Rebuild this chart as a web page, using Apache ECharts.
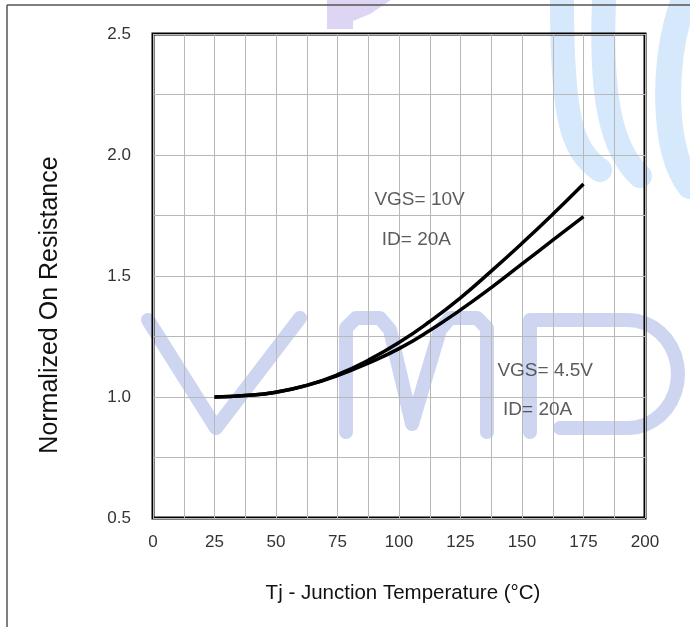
<!DOCTYPE html>
<html>
<head>
<meta charset="utf-8">
<script src="https://cdn.jsdelivr.net/npm/echarts@6/dist/echarts.min.js"></script>
<style>
  html, body { margin: 0; padding: 0; background: #fff; }
  #chart { width: 690px; height: 627px; }
</style>
</head>
<body>
<div id="chart"></div>
<script>
// junction temperature (°C)
const temps = [25, 37.5, 50, 62.5, 75, 87.5, 100, 112.5, 125, 137.5, 150, 162.5, 175];
// normalized on resistance, VGS = 10V, ID = 20A
const rdsVgs10 = [1.0, 1.006, 1.02, 1.048, 1.092, 1.152, 1.225, 1.312, 1.41, 1.52, 1.635, 1.755, 1.88];
// normalized on resistance, VGS = 4.5V, ID = 20A
const rdsVgs45 = [1.0, 1.006, 1.02, 1.048, 1.088, 1.14, 1.2, 1.275, 1.36, 1.452, 1.55, 1.648, 1.745];
// curve notes and where they sit (data units)
const notes = ['VGS= 10V', 'ID= 20A', 'VGS= 4.5V', 'ID= 20A'];
const noteX = [90, 93, 140, 142.3];
const noteY = [1.814, 1.649, 1.107, 0.946];

const chart = echarts.init(document.getElementById('chart'));

const toPairs = (ys) => temps.map((t, i) => [t, ys[i]]);
const wm = '#cdd5f1';   // watermark lavender
const wmBlue = '#d6e8fb';

// rounded side of the "D" in the watermark
const dPts = [[530, 432], [530, 320], [628, 320]];
for (let a = -90; a <= 90; a += 10) {
  const r = a * Math.PI / 180;
  dPts.push([628 + 50 * Math.cos(r), 374 + 54 * Math.sin(r)]);
}
dPts.push([560, 428]);

const wmStroke = (color, w) => ({ stroke: color, lineWidth: w, fill: null, lineCap: 'round', lineJoin: 'round' });

const option = {
  animation: false,
  backgroundColor: '#fff',
  grid: {
    left: 153, top: 34, width: 492, height: 484,
    show: true, borderColor: '#000', borderWidth: 3
  },
  xAxis: {
    type: 'value', min: 0, max: 200, interval: 25,
    axisLine: { show: false }, axisTick: { show: false },
    axisLabel: { color: '#333', fontSize: 17, margin: 16, fontFamily: 'Liberation Sans' },
    splitLine: { show: true, lineStyle: { color: '#b8b8b8', width: 1 } },
    minorTick: { show: false, splitNumber: 2 },
    minorSplitLine: { show: true, lineStyle: { color: '#b8b8b8', width: 1 } }
  },
  yAxis: {
    type: 'value', min: 0.5, max: 2.5, interval: 0.5,
    axisLine: { show: false }, axisTick: { show: false },
    axisLabel: {
      color: '#333', fontSize: 17, margin: 22, fontFamily: 'Liberation Sans',
      formatter: (v) => v.toFixed(1)
    },
    splitLine: { show: true, lineStyle: { color: '#b8b8b8', width: 1 } },
    minorTick: { show: false, splitNumber: 2 },
    minorSplitLine: { show: true, lineStyle: { color: '#b8b8b8', width: 1 } }
  },
  series: [
    {
      name: 'VGS=10V', type: 'line', data: toPairs(rdsVgs10),
      smooth: true, symbol: 'none',
      lineStyle: { color: '#000', width: 3.5 }, z: 5
    },
    {
      name: 'VGS=4.5V', type: 'line', data: toPairs(rdsVgs45),
      smooth: true, symbol: 'none',
      lineStyle: { color: '#000', width: 3.5 }, z: 5
    },
    {
      name: 'notes', type: 'scatter', symbolSize: 0, silent: true,
      data: notes.map((t, i) => [noteX[i], noteY[i]]),
      label: {
        show: true, position: 'right', distance: 0,
        color: '#333', fontSize: 19, fontFamily: 'Liberation Sans',
        formatter: (p) => notes[p.dataIndex]
      },
      z: 6
    }
  ],
  graphic: [
    // page frame
    { type: 'line', shape: { x1: 7, y1: 5, x2: 690, y2: 5 }, style: { stroke: '#555', lineWidth: 1.5 }, z: 10 },
    { type: 'line', shape: { x1: 7, y1: 5, x2: 7, y2: 627 }, style: { stroke: '#555', lineWidth: 1.5 }, z: 10 },
    // watermark
    { type: 'polyline', z: -10, shape: { points: [[148, 320], [216, 428], [300, 318]] }, style: wmStroke(wm, 14) },
    { type: 'polyline', z: -10,
      shape: { points: [[346, 432], [346, 328], [356, 318], [380, 318], [390, 330], [412, 424], [440, 330], [450, 318], [477, 318], [487, 328], [487, 432]] },
      style: wmStroke(wm, 14) },
    { type: 'polyline', z: -10, shape: { points: dPts }, style: wmStroke(wm, 14) },
    { type: 'polygon', z: -10,
      shape: { points: [[327, 0], [391, 0], [370, 14], [353, 21], [353, 29], [327, 29]] },
      style: { fill: '#ddd5f3' } },
    { type: 'bezierCurve', z: -10,
      shape: { x1: 562, y1: 0, cpx1: 562, cpy1: 120, cpx2: 572, cpy2: 150, x2: 600, y2: 170 },
      style: wmStroke(wmBlue, 24) },
    { type: 'bezierCurve', z: -10,
      shape: { x1: 604, y1: 0, cpx1: 600, cpy1: 100, cpx2: 612, cpy2: 150, x2: 640, y2: 176 },
      style: wmStroke(wmBlue, 24) },
    { type: 'bezierCurve', z: -10,
      shape: { x1: 684, y1: 0, cpx1: 662, cpy1: 60, cpx2: 662, cpy2: 150, x2: 690, y2: 186 },
      style: wmStroke(wmBlue, 26) },
    // axis titles
    { type: 'text', x: 403, y: 593, z: 10,
      style: { text: 'Tj - Junction Temperature (°C)', fill: '#111', font: '20.5px "Liberation Sans"', align: 'center', verticalAlign: 'middle' } },
    { type: 'text', x: 50, y: 305, rotation: Math.PI / 2, z: 10,
      style: { text: 'Normalized On Resistance', fill: '#111', font: '25px "Liberation Sans"', align: 'center', verticalAlign: 'middle' } }
  ]
};

chart.setOption(option);
</script>
</body>
</html>
